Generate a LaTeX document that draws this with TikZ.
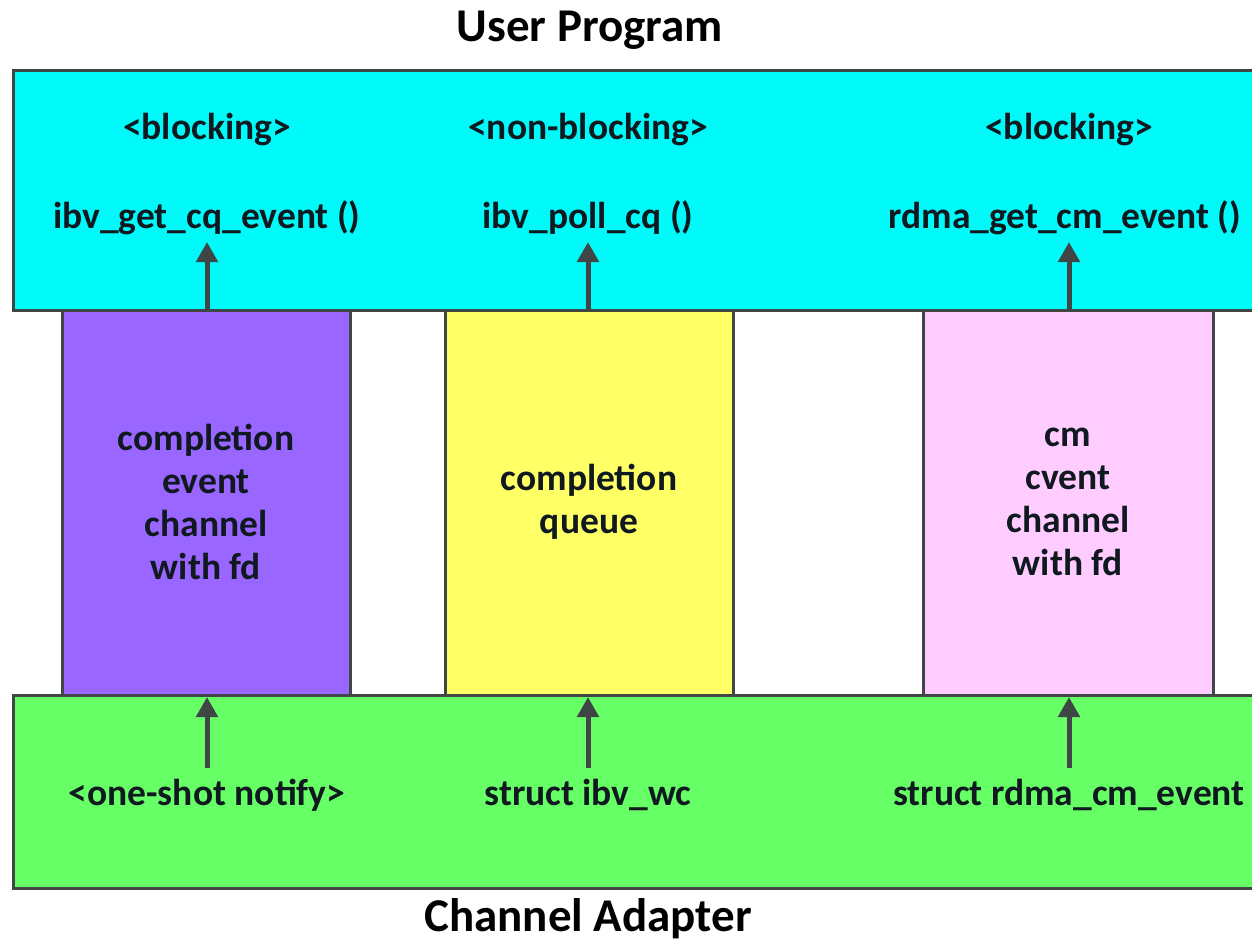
\documentclass[tikz,border=0pt]{standalone}
\usepackage{fontspec}
\setmainfont{Carlito}
\usetikzlibrary{arrows.meta}
\definecolor{cyanbox}{HTML}{00FAFA}
\definecolor{purplebox}{HTML}{9966FF}
\definecolor{yellowbox}{HTML}{FFFF66}
\definecolor{pinkbox}{HTML}{FFCCFF}
\definecolor{greenbox}{HTML}{66FF66}
\definecolor{edge}{HTML}{404545}
\definecolor{ink}{HTML}{101820}
\tikzset{
  box/.style={draw=edge, line width=3pt, inner sep=0pt, outer sep=0pt},
  col/.style={box, minimum width=288pt, minimum height=385pt, anchor=north},
  lbl/.style={font=\fontsize{37.5}{43}\selectfont\bfseries, text=ink, align=center, inner sep=0pt},
  ttl/.style={font=\fontsize{47}{52}\selectfont\bfseries, text=black, inner sep=0pt},
  arr/.style={draw=edge, line width=5pt, -{Triangle[length=20pt,width=21pt]}}
}
\begin{document}
\begin{tikzpicture}[x=1pt,y=-1pt]
\useasboundingbox (0,0) rectangle (1252,945);
\clip (0,0) rectangle (1252,945);
\fill[white] (0,0) rectangle (1252,945);
% top and bottom bars
\node[box, fill=cyanbox, minimum width=1260pt, minimum height=240pt, anchor=north west] (user) at (13,70) {};
\node[box, fill=greenbox, minimum width=1260pt, minimum height=193pt, anchor=north west] (ca) at (13,695) {};
% columns
\node[col, fill=purplebox] (cec) at (206,310) {};
\node[col, fill=yellowbox] (cq) at (589,310) {};
\node[col, fill=pinkbox, minimum width=290pt] (cmc) at (1068,310) {};
% redraw bar borders over columns
\draw[edge, line width=3pt] (user.south west) -- (user.south east);
\draw[edge, line width=3pt] (ca.north west) -- (ca.north east);
% titles
\node[ttl] (tup) at (590,30) {User Program};
\node[ttl] (tca) at (588,919) {Channel Adapter};
% top labels
\node[lbl] (b1) at (207,130) {<blocking>};
\node[lbl] (f1) at (207,218) {ibv\_get\_cq\_event ()};
\node[lbl] (b2) at (588,130) {<non-blocking>};
\node[lbl] (f2) at (588,218) {ibv\_poll\_cq ()};
\node[lbl] (b3) at (1069,130) {<blocking>};
\node[lbl] (f3) at (1065,218) {rdma\_get\_cm\_event ()};
% column labels
\node[lbl] (t1) at (206,502) {completion\\event\\channel\\with fd};
\node[lbl] (t2) at (589,502) {completion\\queue};
\node[lbl] (t3) at (1068,502) {cm\\cvent\\channel\\with fd};
% bottom labels
\node[lbl] (s1) at (207,795) {<one-shot notify>};
\node[lbl] (s2) at (588,795) {struct ibv\_wc};
\node[lbl] (s3) at (1069,795) {struct rdma\_cm\_event};
% arrows
\coordinate (a1) at (207,242);
\coordinate (a2) at (588,242);
\coordinate (a3) at (1069,242);
\coordinate (c1) at (207,697);
\coordinate (c2) at (588,697);
\coordinate (c3) at (1069,697);
\coordinate (d1) at (207,768);
\coordinate (d2) at (588,768);
\coordinate (d3) at (1069,768);
\draw[arr] (cec.north -| a1) -- (a1);
\draw[arr] (cq.north -| a2) -- (a2);
\draw[arr] (cmc.north -| a3) -- (a3);
\draw[arr] (d1) -- (c1);
\draw[arr] (d2) -- (c2);
\draw[arr] (d3) -- (c3);
\end{tikzpicture}
\end{document}
